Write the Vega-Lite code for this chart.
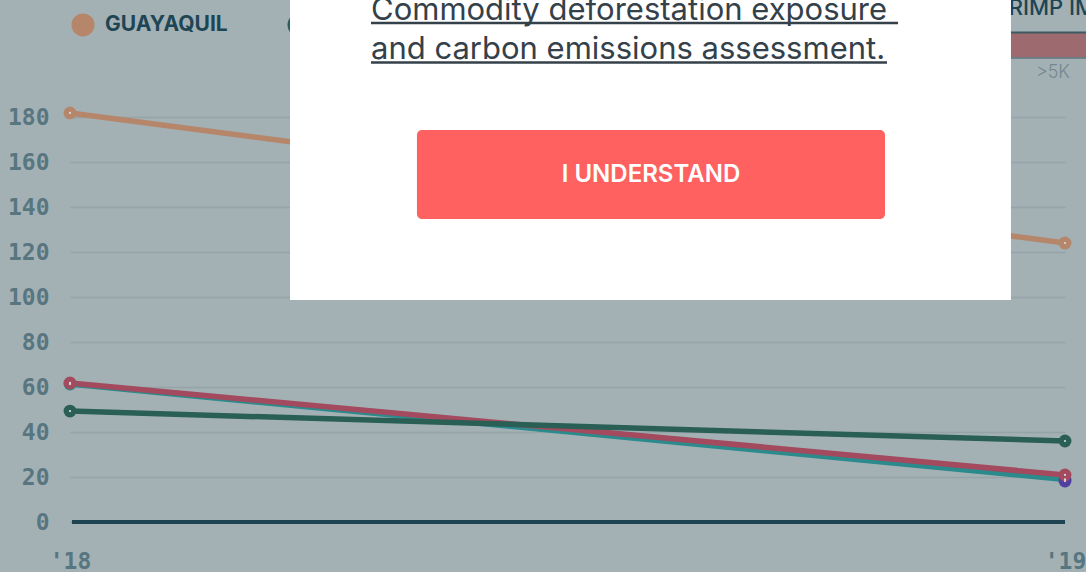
{
  "$schema": "https://vega.github.io/schema/vega-lite/v6.json",
  "autosize": {"type": "none"},
  "padding": {"left": 70, "top": 0, "right": 21, "bottom": 50},
  "width": 995,
  "height": 522,
  "background": "#a3b1b5",
  "config": {"view": {"stroke": null}},
  "datasets": {
    "series": [
      {"series": "Series 4", "year": 2018, "value": 61.3},
      {"series": "Series 4", "year": 2019, "value": 18.9},
      {"series": "Series 5", "year": 2019, "value": 18.2},
      {"series": "Series 3", "year": 2018, "value": 61.8},
      {"series": "Series 3", "year": 2019, "value": 20.9},
      {"series": "Series 2", "year": 2018, "value": 49.3},
      {"series": "Series 2", "year": 2019, "value": 36.0},
      {"series": "GUAYAQUIL", "year": 2018, "value": 181.8},
      {"series": "GUAYAQUIL", "year": 2019, "value": 124.0}
    ],
    "legend": [
      {"series": "GUAYAQUIL", "x": 2018.0131, "y": 220.9},
      {"series": "Series 2", "x": 2018.2302, "y": 220.9}
    ],
    "modal": [{"x": 2018.2211, "x2": 2018.9457, "y": 232, "y2": 98.667}],
    "modalText": [
      {"text": "Commodity deforestation exposure", "x": 2018.3025, "y": 223.1},
      {"text": "and carbon emissions assessment.", "x": 2018.3025, "y": 205.8}
    ],
    "underline": [
      {"x": 2018.3025, "x2": 2018.8322, "y": 221.8},
      {"x": 2018.3025, "x2": 2018.8211, "y": 204.2}
    ],
    "button": [{"x": 2018.3487, "x2": 2018.8191, "y": 174.22, "y2": 134.67, "text": "I UNDERSTAND", "cx": 2018.5839, "cy": 154.22}],
    "topRight": [{"x": 2018.93, "x2": 2019.03, "y": 217.6, "y2": 206.5, "yb": 206.2, "text": "SHRIMP IMPORTS", "tx": 2018.9126, "ty": 225.3, "label": ">5K", "lx": 2018.9879, "ly": 199.6}]
  },
  "encoding": {
    "x": {"field": "year", "type": "quantitative", "scale": {"domain": [2018, 2019], "nice": false, "zero": false},
      "axis": {"title": null, "values": [2018, 2019], "labelExpr": "datum.value == 2018 ? \"'18\" : \"'19\"", "grid": false, "ticks": false, "domain": false, "labelFont": "DejaVu Sans Mono", "labelFontWeight": "bold", "labelFontSize": 23, "labelColor": "#587680", "labelPadding": 28, "labelFlush": false, "labelOverlap": false}},
    "y": {"field": "value", "type": "quantitative", "scale": {"domain": [0, 232], "nice": false, "zero": true},
      "axis": {"title": null, "values": [0, 20, 40, 60, 80, 100, 120, 140, 160, 180], "grid": true, "gridColor": "#95a4a9", "gridWidth": 1.5, "ticks": false, "domain": false, "labelFont": "DejaVu Sans Mono", "labelFontWeight": "bold", "labelFontSize": 23, "labelColor": "#587680", "labelPadding": 21, "labelFlush": false, "labelOverlap": false}}
  },
  "layer": [
    {
      "data": {"name": "series"},
      "mark": {"type": "line", "strokeWidth": 5.5, "strokeCap": "round"},
      "encoding": {
        "color": {"field": "series", "type": "nominal", "legend": null,
          "scale": {"domain": ["GUAYAQUIL", "Series 2", "Series 3", "Series 4", "Series 5"], "range": ["#b5866a", "#2a5f55", "#a34a5f", "#2a8a8c", "#4f3fa0"]}}
      }
    },
    {
      "data": {"name": "series"},
      "mark": {"type": "circle", "size": 165, "opacity": 1},
      "encoding": {"color": {"field": "series", "type": "nominal", "legend": null}}
    },
    {
      "data": {"name": "series"},
      "mark": {"type": "circle", "size": 5, "opacity": 1, "color": "#d4dadc"}
    },
    {
      "data": {"name": "series"},
      "mark": {"type": "rule", "strokeWidth": 3.5, "color": "#1e4451"},
      "encoding": {"x": {"datum": 2018.002}, "x2": {"datum": 2019}, "y": {"datum": 0}}
    },
    {
      "data": {"name": "legend"},
      "mark": {"type": "circle", "size": 530, "opacity": 1},
      "encoding": {"x": {"field": "x", "type": "quantitative"}, "y": {"field": "y", "type": "quantitative"}, "color": {"field": "series", "type": "nominal", "legend": null}}
    },
    {
      "data": {"name": "legend"},
      "transform": [{"filter": "datum.series == 'GUAYAQUIL'"}],
      "mark": {"type": "text", "align": "left", "baseline": "middle", "dx": 22, "font": "Inter", "fontWeight": "bold", "fontSize": 21, "color": "#1e4553"},
      "encoding": {"x": {"field": "x", "type": "quantitative"}, "y": {"field": "y", "type": "quantitative"}, "text": {"field": "series"}}
    },
    {
      "data": {"name": "topRight"},
      "mark": {"type": "rect", "color": "#9d6a70"},
      "encoding": {"x": {"field": "x", "type": "quantitative"}, "x2": {"field": "x2"}, "y": {"field": "y", "type": "quantitative"}, "y2": {"field": "y2"}}
    },
    {
      "data": {"name": "topRight"},
      "mark": {"type": "rule", "color": "#3d5a63", "strokeWidth": 2},
      "encoding": {"x": {"field": "x", "type": "quantitative"}, "x2": {"field": "x2"}, "y": {"field": "y", "type": "quantitative"}}
    },
    {
      "data": {"name": "topRight"},
      "mark": {"type": "rule", "color": "#5d767e", "strokeWidth": 1.5},
      "encoding": {"x": {"field": "x", "type": "quantitative"}, "x2": {"field": "x2"}, "y": {"field": "yb", "type": "quantitative"}}
    },
    {
      "data": {"name": "topRight"},
      "mark": {"type": "text", "align": "left", "baseline": "alphabetic", "font": "Inter", "fontWeight": 500, "fontSize": 22, "color": "#1e4553"},
      "encoding": {"x": {"field": "tx", "type": "quantitative"}, "y": {"field": "ty", "type": "quantitative"}, "text": {"field": "text"}}
    },
    {
      "data": {"name": "topRight"},
      "mark": {"type": "text", "align": "center", "baseline": "middle", "font": "Inter", "fontWeight": 300, "fontSize": 18, "color": "#74888f"},
      "encoding": {"x": {"field": "lx", "type": "quantitative"}, "y": {"field": "ly", "type": "quantitative"}, "text": {"field": "label"}}
    },
    {
      "data": {"name": "modal"},
      "mark": {"type": "rect", "color": "#ffffff", "opacity": 1},
      "encoding": {"x": {"field": "x", "type": "quantitative"}, "x2": {"field": "x2"}, "y": {"field": "y", "type": "quantitative"}, "y2": {"field": "y2"}}
    },
    {
      "data": {"name": "modalText"},
      "mark": {"type": "text", "align": "left", "baseline": "alphabetic", "font": "Inter", "fontWeight": 400, "fontSize": 31, "color": "#34414a"},
      "encoding": {"x": {"field": "x", "type": "quantitative"}, "y": {"field": "y", "type": "quantitative"}, "text": {"field": "text"}}
    },
    {
      "data": {"name": "underline"},
      "mark": {"type": "rule", "color": "#34414a", "strokeWidth": 2.5},
      "encoding": {"x": {"field": "x", "type": "quantitative"}, "x2": {"field": "x2"}, "y": {"field": "y", "type": "quantitative"}}
    },
    {
      "data": {"name": "button"},
      "mark": {"type": "rect", "color": "#ff6161", "cornerRadius": 5, "opacity": 1},
      "encoding": {"x": {"field": "x", "type": "quantitative"}, "x2": {"field": "x2"}, "y": {"field": "y", "type": "quantitative"}, "y2": {"field": "y2"}}
    },
    {
      "data": {"name": "button"},
      "mark": {"type": "text", "align": "center", "baseline": "middle", "font": "Inter", "fontWeight": 600, "fontSize": 24, "color": "#ffffff"},
      "encoding": {"x": {"field": "cx", "type": "quantitative"}, "y": {"field": "cy", "type": "quantitative"}, "text": {"field": "text"}}
    }
  ]
}
